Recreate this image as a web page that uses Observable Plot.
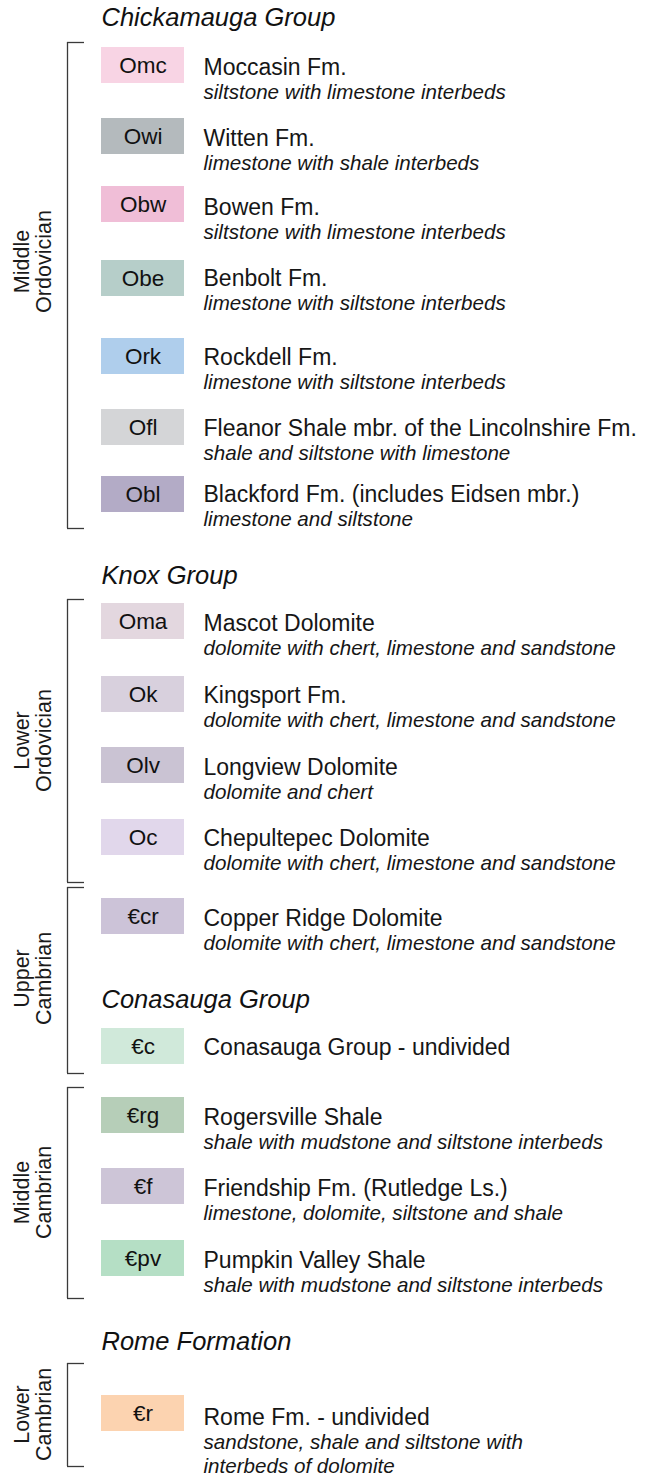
<!DOCTYPE html>
<html>
<head>
<meta charset="utf-8">
<script src="https://cdn.jsdelivr.net/npm/d3@7"></script>
<script src="https://cdn.jsdelivr.net/npm/@observablehq/plot@0.6"></script>
<style>
  html, body { margin: 0; padding: 0; background: #fff; }
  #chart svg { display: block; }
</style>
</head>
<body>
<div id="chart"></div>
<script>
// ---- data ----
const codes = ["Omc","Owi","Obw","Obe","Ork","Ofl","Obl","Oma","Ok","Olv","Oc","€cr","€c","€rg","€f","€pv","€r"];
const names = [
  "Moccasin Fm.",
  "Witten Fm.",
  "Bowen Fm.",
  "Benbolt Fm.",
  "Rockdell Fm.",
  "Fleanor Shale mbr. of the Lincolnshire Fm.",
  "Blackford Fm. (includes Eidsen mbr.)",
  "Mascot Dolomite",
  "Kingsport Fm.",
  "Longview Dolomite",
  "Chepultepec Dolomite",
  "Copper Ridge Dolomite",
  "Conasauga Group - undivided",
  "Rogersville Shale",
  "Friendship Fm. (Rutledge Ls.)",
  "Pumpkin Valley Shale",
  "Rome Fm. - undivided"
];
const descriptions = [
  "siltstone with limestone interbeds",
  "limestone with shale interbeds",
  "siltstone with limestone interbeds",
  "limestone with siltstone interbeds",
  "limestone with siltstone interbeds",
  "shale and siltstone with limestone",
  "limestone and siltstone",
  "dolomite with chert, limestone and sandstone",
  "dolomite with chert, limestone and sandstone",
  "dolomite and chert",
  "dolomite with chert, limestone and sandstone",
  "dolomite with chert, limestone and sandstone",
  "",
  "shale with mudstone and siltstone interbeds",
  "limestone, dolomite, siltstone and shale",
  "shale with mudstone and siltstone interbeds",
  "sandstone, shale and siltstone with\ninterbeds of dolomite"
];
const unitColors = ["#f8d4e4","#b4babd","#f0bed7","#b6cec9","#afceec","#d4d5d7","#b3abc6","#e3d7df","#d8d0dd","#cac3d3","#e1d7eb","#ccc3d8","#d0e9da","#b6ceb8","#cdc5d7","#b5dfc5","#fcd3b0"];
const groups = ["Chickamauga Group","Knox Group","Conasauga Group","Rome Formation"];
const periods = ["Middle\nOrdovician","Lower\nOrdovician","Upper\nCambrian","Middle\nCambrian","Lower\nCambrian"];

// ---- layout (pixel positions in the legend) ----
const boxTop = [47,118,186,260,338,409,476,603,676,747,819,898,1028,1097,1168,1240,1395];
const nameY  = [67,138,207,278,357,428,494,623,695,767,838,918,1047,1117,1188,1260,1417];
const groupY = [17,575,999,1341];
const bracketTop = [42,599,887,1087,1363];
const bracketBottom = [528,882,1073,1298,1466];
const periodY = [261,740,978,1192,1414];

const W = 647, H = 1476;
const font = "'Liberation Sans', Arial, Helvetica, sans-serif";
const boxX1 = 101, boxX2 = 184, boxH = 36, textX = 203;
const brX = 67, brTick = 84;

const units = codes.map((c, i) => ({code: c, name: names[i], color: unitColors[i], top: boxTop[i], ny: nameY[i]}));
const descLines = descriptions.flatMap((d, i) =>
  d ? d.split("\n").map((line, j) => ({text: line, y: nameY[i] + 24.5 + j * 24})) : []);
const groupRows = groups.map((g, i) => ({label: g, y: groupY[i]}));
const brackets = periods.map((p, i) => ({label: p, top: bracketTop[i], bottom: bracketBottom[i], cy: periodY[i]}));
const ticks = brackets.flatMap(b => [{y: b.top}, {y: b.bottom}]);

const chart = Plot.plot({
  width: W,
  height: H,
  margin: 0,
  x: {domain: [0, W], range: [0, W], axis: null},
  y: {domain: [0, H], range: [0, H], axis: null},
  color: {type: "identity"},
  style: {fontFamily: font, background: "#fff"},
  marks: [
    // brackets
    Plot.ruleX(brackets, {x: () => brX, y1: "top", y2: "bottom", stroke: "#3a3a3a", strokeWidth: 1.3}),
    Plot.ruleY(ticks, {y: "y", x1: () => brX, x2: () => brTick, stroke: "#3a3a3a", strokeWidth: 1.3}),
    Plot.text(brackets, {
      x: () => 32.5, y: "cy", text: "label", rotate: -90,
      fontSize: 21.5, lineHeight: 1.02, textAnchor: "middle", lineAnchor: "middle",
      fill: "#1a1a1a", ariaLabel: "period"
    }),
    // group titles
    Plot.text(groupRows, {
      x: () => boxX1, y: "y", text: "label", textAnchor: "start", lineAnchor: "middle",
      fontSize: 25.5, fontStyle: "italic", fill: "#111"
    }),
    // colour boxes
    Plot.rect(units, {x1: () => boxX1, x2: () => boxX2, y1: "top", y2: d => d.top + boxH, fill: "color"}),
    Plot.text(units, {
      x: () => (boxX1 + boxX2) / 2, y: d => d.top + boxH / 2, text: "code",
      fontSize: 22.5, textAnchor: "middle", lineAnchor: "middle", fill: "#111"
    }),
    // unit names
    Plot.text(units, {
      x: () => textX, y: "ny", text: "name", fontSize: 23,
      textAnchor: "start", lineAnchor: "middle", fill: "#161616"
    }),
    // descriptions
    Plot.text(descLines, {
      x: () => textX, y: "y", text: "text", fontSize: 20.6, fontStyle: "italic",
      textAnchor: "start", lineAnchor: "middle", fill: "#161616"
    })
  ]
});

d3.select(chart).selectAll('g[aria-label="period"] text').attr("letter-spacing", 2);
document.getElementById("chart").appendChild(chart);
</script>
</body>
</html>
